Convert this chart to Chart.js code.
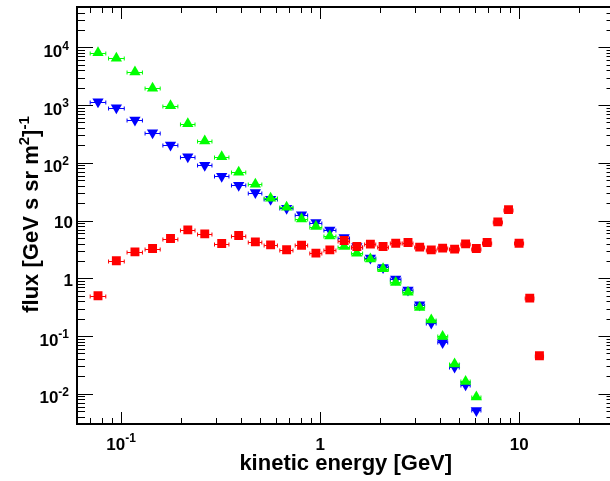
<!DOCTYPE html>
<html>
<head>
<meta charset="utf-8">
<script src="https://cdn.jsdelivr.net/npm/chart.js@4.4.0/dist/chart.umd.min.js"></script>
<style>
  html, body { margin: 0; padding: 0; background: #fff; }
  canvas { display: block; }
</style>
</head>
<body>
<canvas id="grafico" width="610" height="481"></canvas>
<script>
// --- DADOS ---
const energias = [0.0765, 0.0946, 0.1173, 0.1438, 0.177, 0.2162, 0.263, 0.32, 0.3895, 0.4723,
    0.5634, 0.678, 0.8058, 0.9515, 1.118, 1.319, 1.528, 1.787, 2.069, 2.395,
    2.761, 3.16, 3.614, 4.121, 4.733, 5.375, 6.087, 6.896, 7.804, 8.832,
    9.977, 11.29, 12.63];

const fluxoVerde = [8070, 6450, 3740, 1950, 977, 476, 239, 128, 68.7, 42.6,
    24.4, 17.1, 10.6, 7.87, 5.43, 3.55, 2.73, 2.17, 1.46, 0.847,
    0.576, 0.313, 0.189, 0.0984, 0.0328, 0.0164, 0.0088];

const fluxoAzul = [1146, 902, 552, 333, 204, 128, 90.8, 58.6, 40.9, 30.5,
    23.4, 16.4, 12.6, 9.23, 6.9, 5.08, 3.55, 2.24, 1.54, 0.97,
    0.63, 0.348, 0.168, 0.0775, 0.0291, 0.0144, 0.00516];

const fluxoVermelho = [0.498, 2.01, 2.87, 3.28, 4.89, 6.9, 5.89, 4.0, 5.5, 4.28,
    3.8, 3.12, 3.75, 2.73, 3.11, 4.51, 3.55, 3.91, 3.55, 4.06,
    4.17, 3.47, 3.11, 3.33, 3.2, 3.95, 3.28, 4.17, 9.5, 15.5,
    4.06, 0.454, 0.0456];

const xTickValores = [0.1, 1, 10];
const xTickLabels = [['10', '-1'], ['1', ''], ['10', '']];
const yTickValores = [1e4, 1e3, 1e2, 10, 1, 0.1, 0.01];
const yTickLabels = [['10', '4'], ['10', '3'], ['10', '2'], ['10', ''], ['1', ''], ['10', '-1'], ['10', '-2']];

const tituloX = 'kinetic energy [GeV]';

// --- FUNÇÕES AUXILIARES ---
// bordas dos bins: meio geométrico entre pontos vizinhos
function montarPontos(valores) {
    return valores.map((v, i) => {
        const e = energias[i];
        const ant = i > 0 ? energias[i - 1] : e * e / energias[i + 1];
        const prox = i < energias.length - 1 ? energias[i + 1] : e * e / energias[i - 1];
        const lo = Math.sqrt(e * ant), hi = Math.sqrt(e * prox);
        return { x: e, y: v, xlo: e * Math.pow(lo / e, 0.85), xhi: e * Math.pow(hi / e, 0.85) };
    });
}

const FONTE = "'Liberation Sans', Arial, sans-serif";

// texto com expoente; align: 'right' ou 'center'
function textoSup(ctx, base, sup, x, y, tam, align) {
    ctx.font = `bold ${tam}px ${FONTE}`;
    const wb = ctx.measureText(base).width;
    const tamSup = Math.round(tam * 0.7);
    ctx.font = `bold ${tamSup}px ${FONTE}`;
    const ws = sup ? ctx.measureText(sup).width : 0;
    const total = wb + ws;
    let x0 = align === 'right' ? x - total : x - total / 2;
    ctx.textAlign = 'left';
    ctx.textBaseline = 'alphabetic';
    ctx.font = `bold ${tam}px ${FONTE}`;
    ctx.fillText(base, x0, y);
    if (sup) {
        ctx.font = `bold ${tamSup}px ${FONTE}`;
        ctx.fillText(sup, x0 + wb, y - tam * 0.42);
    }
}

// --- PLUGINS ---
const barrasErro = {
    id: 'barrasErro',
    beforeDatasetDraw(chart, args) {
        const ds = chart.data.datasets[args.index];
        const { ctx, chartArea, scales } = chart;
        ctx.save();
        ctx.beginPath();
        ctx.rect(chartArea.left, chartArea.top, chartArea.right - chartArea.left, chartArea.bottom - chartArea.top);
        ctx.clip();
        ctx.strokeStyle = ds.borderColor;
        ctx.lineWidth = 1;
        ds.data.forEach(p => {
            const x0 = scales.x.getPixelForValue(p.xlo);
            const x1 = scales.x.getPixelForValue(p.xhi);
            const py = Math.round(scales.y.getPixelForValue(p.y)) + 0.5;
            ctx.beginPath();
            ctx.moveTo(x0, py); ctx.lineTo(x1, py);
            ctx.moveTo(x0, py - 2); ctx.lineTo(x0, py + 2);
            ctx.moveTo(x1, py - 2); ctx.lineTo(x1, py + 2);
            ctx.stroke();
        });
        ctx.restore();
    }
};

const eixosRoot = {
    id: 'eixosRoot',
    beforeDatasetsDraw(chart) {
        const { ctx, chartArea: a, scales } = chart;
        const sx = scales.x, sy = scales.y;
        // o eixo da direita fica fora da janela (cortado, como no original)
        const direita = a.right + 11;
        ctx.save();
        ctx.strokeStyle = '#000';
        ctx.fillStyle = '#000';

        // ticks
        ctx.lineWidth = 1;
        ctx.beginPath();
        for (let d = -3; d <= 2; d++) {
            for (let k = 1; k <= 9; k++) {
                const v = k * Math.pow(10, d);
                if (v < sx.min || v > sx.max) continue;
                const px = Math.round(sx.getPixelForValue(v)) + 0.5;
                const len = k === 1 ? 12 : 6;
                ctx.moveTo(px, a.bottom); ctx.lineTo(px, a.bottom - len);
                ctx.moveTo(px, a.top); ctx.lineTo(px, a.top + len);
            }
        }
        for (let d = -4; d <= 5; d++) {
            for (let k = 1; k <= 9; k++) {
                const v = k * Math.pow(10, d);
                if (v < sy.min || v > sy.max) continue;
                const py = Math.round(sy.getPixelForValue(v)) + 0.5;
                const len = k === 1 ? 16 : 8;
                ctx.moveTo(a.left, py); ctx.lineTo(a.left + len, py);
                ctx.moveTo(direita, py); ctx.lineTo(direita - len, py);
            }
        }
        ctx.stroke();

        // moldura
        ctx.lineWidth = 2;
        ctx.strokeRect(a.left, a.top, direita - a.left, a.bottom - a.top);

        // rótulos
        xTickValores.forEach((v, i) => {
            const px = sx.getPixelForValue(v);
            textoSup(ctx, xTickLabels[i][0], xTickLabels[i][1], px, 449.5, 17, 'center');
        });
        yTickValores.forEach((v, i) => {
            const py = sy.getPixelForValue(v);
            const [b, s] = yTickLabels[i];
            textoSup(ctx, b, s, s ? 69 : 73, py + (s ? 9.5 : 7.5), 17, 'right');
        });

        // títulos
        ctx.font = `bold 22px ${FONTE}`;
        ctx.textAlign = 'center';
        ctx.textBaseline = 'alphabetic';
        ctx.fillText(tituloX, (a.left + direita) / 2, 470);

        ctx.save();
        ctx.translate(37.5, (a.top + a.bottom) / 2 - 1);
        ctx.rotate(-Math.PI / 2);
        const partes = [['flux [GeV s sr m', 22, 0], ['2', 15, 9], [']', 22, 0], ['-1', 15, 9]];
        let total = 0;
        partes.forEach(([t, tam]) => { ctx.font = `bold ${tam}px ${FONTE}`; total += ctx.measureText(t).width; });
        let cx = -total / 2;
        ctx.textAlign = 'left';
        partes.forEach(([t, tam, sobe]) => {
            ctx.font = `bold ${tam}px ${FONTE}`;
            ctx.fillText(t, cx, -sobe);
            cx += ctx.measureText(t).width;
        });
        ctx.restore();

        ctx.restore();
    }
};

// --- GRÁFICO ---
const ctx = document.getElementById('grafico').getContext('2d');
new Chart(ctx, {
    type: 'scatter',
    data: {
        datasets: [
            {
                label: 'vermelho',
                data: montarPontos(fluxoVermelho),
                pointStyle: 'rect',
                pointRadius: 6.3,
                backgroundColor: '#ff0000',
                borderColor: '#ff0000',
                borderWidth: 0,
                order: 0
            },
            {
                label: 'verde',
                data: montarPontos(fluxoVerde),
                pointStyle: 'triangle',
                pointRadius: 6.5,
                backgroundColor: '#00ff00',
                borderColor: '#00ff00',
                borderWidth: 0,
                order: 1
            },
            {
                label: 'azul',
                data: montarPontos(fluxoAzul),
                pointStyle: 'triangle',
                pointRotation: 180,
                pointRadius: 6.5,
                backgroundColor: '#0000ff',
                borderColor: '#0000ff',
                borderWidth: 0,
                order: 2
            }
        ]
    },
    options: {
        responsive: false,
        animation: false,
        layout: { padding: { left: 77, top: 7, right: 0, bottom: 57 } },
        scales: {
            x: { type: 'logarithmic', min: 0.06, max: 26.5, display: false },
            y: { type: 'logarithmic', min: 0.003, max: 5e4, display: false }
        },
        plugins: { legend: { display: false }, tooltip: { enabled: false } }
    },
    plugins: [barrasErro, eixosRoot]
});
</script>
</body>
</html>
